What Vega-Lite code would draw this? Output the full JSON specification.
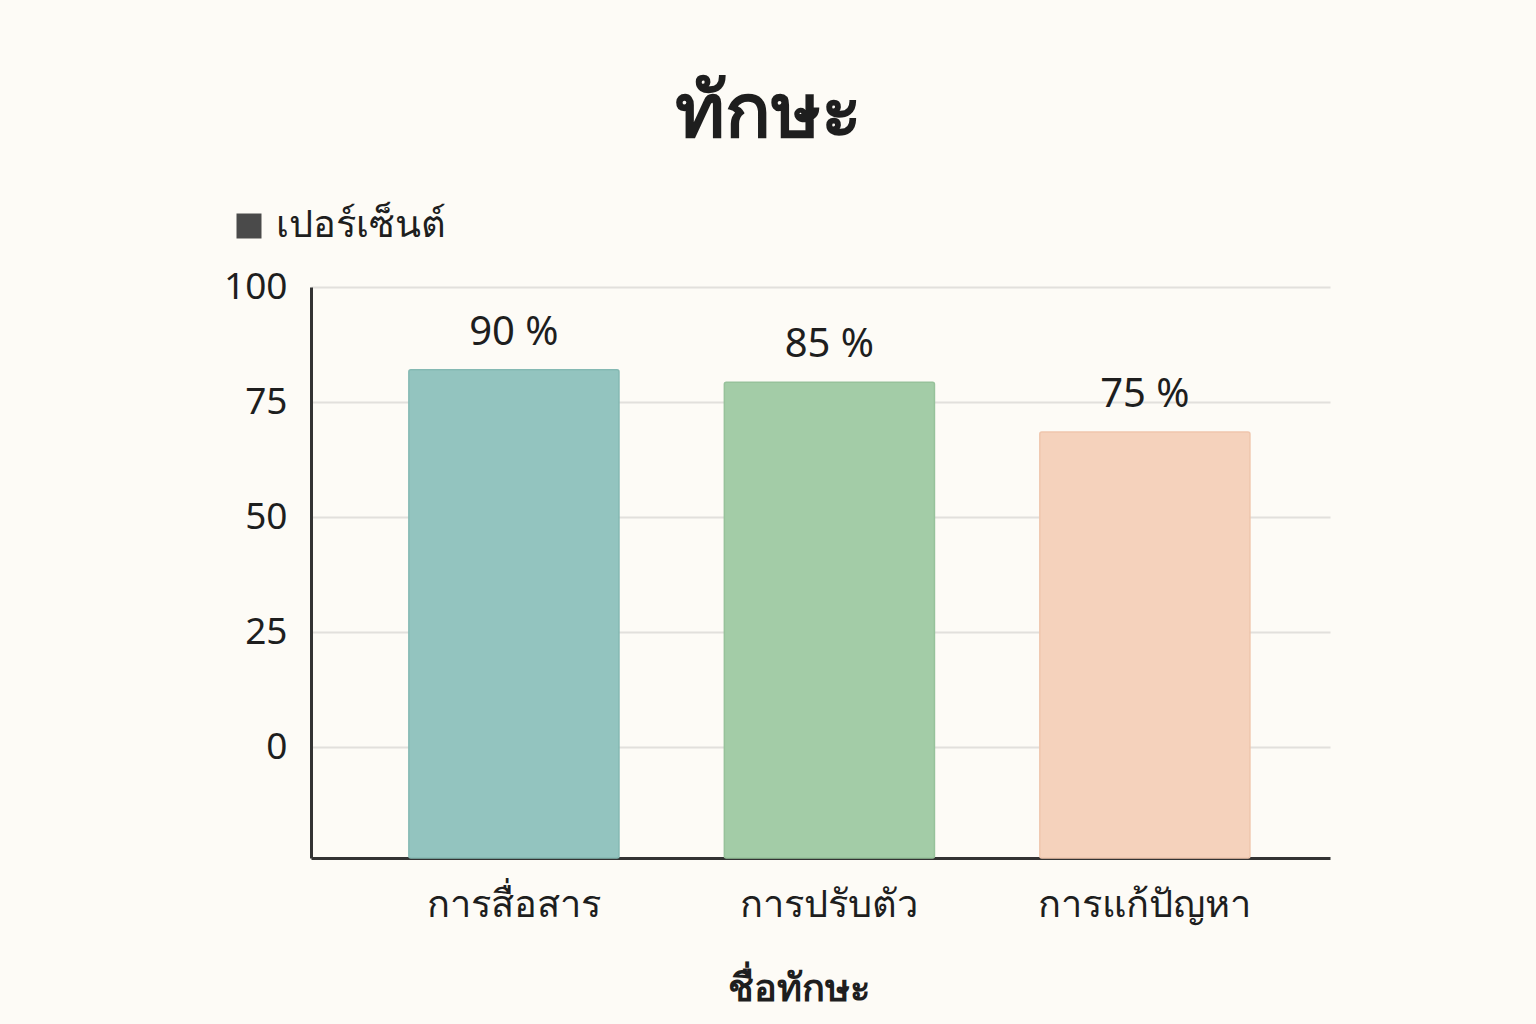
{
  "$schema": "https://vega.github.io/schema/vega-lite/v6.json",
  "description": "Bar chart of skill percentages (Thai labels).",
  "width": 1019,
  "height": 571,
  "autosize": "none",
  "padding": {"left": 311, "top": 287, "right": 206, "bottom": 166},
  "background": "#fdfbf6",
  "title": {
    "text": "ทักษะ",
    "anchor": "middle",
    "frame": "group",
    "dx": -52,
    "offset": 54,
    "fontSize": 76,
    "fontWeight": "bold",
    "color": "#1e1e1e",
    "font": "Noto Sans"
  },
  "data": {
    "values": [
      {"skill": "การสื่อสาร", "percent": 90, "label": "90 %", "bar": 82.0, "series": "เปอร์เซ็นต์"},
      {"skill": "การปรับตัว", "percent": 85, "label": "85 %", "bar": 79.3, "series": "เปอร์เซ็นต์"},
      {"skill": "การแก้ปัญหา", "percent": 75, "label": "75 %", "bar": 68.5, "series": "เปอร์เซ็นต์"}
    ]
  },
  "encoding": {
    "x": {
      "field": "skill",
      "type": "nominal",
      "sort": null,
      "scale": {"paddingInner": 0.334, "paddingOuter": 0.282, "align": 0.55},
      "axis": {
        "title": "ชื่อทักษะ",
        "titleX": 487,
        "labelAngle": 0,
        "labelFontSize": 38,
        "labelLimit": 0,
        "labelColor": "#1e1e1e",
        "labelPadding": 28,
        "ticks": false,
        "domainColor": "#333333",
        "domainWidth": 3,
        "titleFontSize": 38,
        "titleFontWeight": 600,
        "titleColor": "#1e1e1e",
        "titlePadding": 46
      }
    },
    "y": {
      "field": "bar",
      "type": "quantitative",
      "scale": {"domain": [-24.1, 100], "nice": false, "zero": false},
      "axis": {
        "title": null,
        "values": [0, 25, 50, 75, 100],
        "labelFontSize": 37,
        "labelColor": "#1e1e1e",
        "labelPadding": 24,
        "ticks": false,
        "domainColor": "#333333",
        "domainWidth": 3,
        "gridColor": "#e2e0dc",
        "gridWidth": 2
      }
    }
  },
  "layer": [
    {
      "mark": {"type": "bar", "cornerRadius": 2, "strokeWidth": 1.5},
      "encoding": {
        "y2": {"datum": -24.1},
        "color": {
          "field": "skill",
          "type": "nominal",
          "sort": null,
          "scale": {"range": ["#93c4bf", "#a3cca7", "#f5d2bc"]},
          "legend": null
        },
        "stroke": {
          "field": "skill",
          "type": "nominal",
          "sort": null,
          "scale": {"range": ["#85b9b3", "#97c29b", "#efc6ad"]},
          "legend": null
        }
      }
    },
    {
      "mark": {"type": "point", "filled": true, "shape": "square", "size": 0, "opacity": 1},
      "encoding": {
        "color": {
          "field": "series",
          "type": "nominal",
          "scale": {"range": ["#4a4a4a"]},
          "legend": {
            "title": null,
            "orient": "none",
            "legendX": -81,
            "legendY": -80,
            "symbolType": "square",
            "symbolSize": 625,
            "symbolOpacity": 1,
            "labelFontSize": 38,
            "labelLimit": 0,
            "labelColor": "#1e1e1e",
            "labelOffset": 8
          }
        }
      }
    },
    {
      "mark": {"type": "text", "baseline": "middle", "dy": -37, "fontSize": 40, "color": "#1e1e1e"},
      "encoding": {
        "text": {"field": "label", "type": "nominal"}
      }
    }
  ],
  "resolve": {"scale": {"color": "independent"}},
  "config": {
    "font": "Noto Sans",
    "view": {"stroke": null}
  }
}
